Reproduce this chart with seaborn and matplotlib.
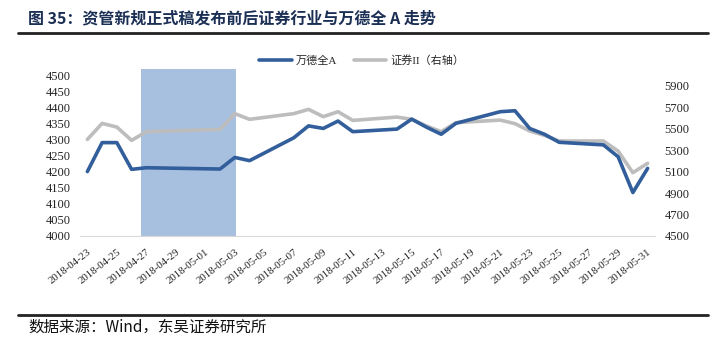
import matplotlib
matplotlib.use("Agg")
import matplotlib.pyplot as plt
from matplotlib.lines import Line2D
import pandas as pd
import numpy as np
import seaborn as sns

# Trading days and closing levels
trade_dates = [
    "2018-04-23", "2018-04-24", "2018-04-25", "2018-04-26", "2018-04-27",
    "2018-05-02", "2018-05-03", "2018-05-04",
    "2018-05-07", "2018-05-08", "2018-05-09", "2018-05-10", "2018-05-11",
    "2018-05-14", "2018-05-15", "2018-05-16", "2018-05-17", "2018-05-18",
    "2018-05-21", "2018-05-22", "2018-05-23", "2018-05-24", "2018-05-25",
    "2018-05-28", "2018-05-29", "2018-05-30", "2018-05-31",
]
wind_all_a = [
    4200, 4290, 4290, 4207, 4212,
    4208, 4244, 4234,
    4305, 4342, 4334, 4357, 4324,
    4332, 4363, 4338, 4316, 4350,
    4386, 4389, 4334, 4316, 4291,
    4283, 4246, 4135, 4210,
]
securities_ii = [
    5400, 5549, 5515, 5391, 5472,
    5493, 5640, 5587,
    5640, 5680, 5612, 5658, 5577,
    5608, 5587, 5525, 5472, 5556,
    5580, 5547, 5478, 5438, 5385,
    5385, 5291, 5090, 5177,
]
series_names = ["万德全A", "证券II（右轴）"]
left_ticks = list(range(4000, 4501, 50))
right_ticks = list(range(4500, 5901, 200))

# Window around the release of the final asset-management rules
shade_start = pd.Timestamp("2018-04-26 15:00")
shade_end = pd.Timestamp("2018-05-03 02:00")

BLUE = "#325F9B"
GREY = "#BDBDBD"
SHADE = "#6E96CA"
AXIS_GREY = "#D9D9D9"

sns.set_style("white")
plt.rcParams["font.family"] = ["Liberation Serif", "Noto Sans CJK SC"]

df = pd.DataFrame({
    "date": pd.to_datetime(trade_dates),
    "wind": wind_all_a,
    "sec": securities_ii,
})

W, H = 724, 346
fig = plt.figure(figsize=(W / 100, H / 100), dpi=100)
ax = fig.add_axes([80 / W, 1 - 236 / H, 575 / W, 161 / H])
ax2 = ax.twinx()
ax.set_zorder(ax2.get_zorder() + 1)
ax.patch.set_visible(False)

sns.lineplot(data=df, x="date", y="sec", ax=ax2, color=GREY, lw=2.6,
             legend=False)
span = ax2.axvspan(shade_start, shade_end, ymin=0, ymax=1.037,
                   color=SHADE, alpha=0.6, lw=0)
span.set_clip_on(False)
sns.lineplot(data=df, x="date", y="wind", ax=ax, color=BLUE, lw=2.6,
             legend=False)

x0 = pd.Timestamp("2018-04-22 12:00")
x1 = pd.Timestamp("2018-05-31 12:00")
ax.set_xlim(x0, x1)
ax.set_ylim(4000, 4500)
ax2.set_ylim(4500, 6000)

major = pd.date_range("2018-04-23", "2018-05-31", freq="2D")
minor = pd.date_range(x0, "2018-05-31", freq="2D")
ax.set_xticks(major)
ax.set_xticklabels([d.strftime("%Y-%m-%d") for d in major])
ax.set_xticks(minor, minor=True)
ax.tick_params(axis="x", which="major", length=0, pad=8, labelsize=7.8)
ax.tick_params(axis="x", which="minor", length=4, width=0.8,
               color=AXIS_GREY, direction="out")
for lab in ax.get_xticklabels():
    lab.set_rotation(38)
    lab.set_ha("right")
    lab.set_va("top")
    lab.set_rotation_mode("anchor")

ax.set_yticks(left_ticks)
ax.tick_params(axis="y", length=0, pad=7, labelsize=9)
ax2.set_yticks(right_ticks)
ax2.tick_params(axis="y", length=0, pad=7, labelsize=9)
ax.set_xlabel("")
ax.set_ylabel("")
ax2.set_ylabel("")

for name, sp in ax.spines.items():
    sp.set_visible(name == "bottom")
ax.spines["bottom"].set_color(AXIS_GREY)
ax.spines["bottom"].set_linewidth(0.8)
for sp in ax2.spines.values():
    sp.set_visible(False)

handles = [Line2D([], [], color=BLUE, lw=2.6),
           Line2D([], [], color=GREY, lw=2.6)]
ax.legend(handles, series_names, loc="center", ncol=2, frameon=False,
          bbox_to_anchor=(0.5, 1 - 60 / H), bbox_transform=fig.transFigure,
          handlelength=2.9, handletextpad=0.4, columnspacing=1.5,
          prop={"family": ["Liberation Serif", "Noto Sans CJK SC"], "size": 8})

# Header and footer
fig.text(28 / W, 1 - 18 / H, "图 35：资管新规正式稿发布前后证券行业与万德全 A 走势",
         ha="left", va="center", fontsize=11.5, fontweight="bold",
         color="#1B2F55", family=["Noto Sans CJK SC"])
fig.add_artist(Line2D([18 / W, 708 / W], [1 - 33 / H, 1 - 33 / H],
                      color="#222222", lw=2.0))
fig.add_artist(Line2D([18 / W, 708 / W], [1 - 315 / H, 1 - 315 / H],
                      color="#222222", lw=2.0))
fig.text(28 / W, 1 - 327 / H, "数据来源：Wind，东吴证券研究所",
         ha="left", va="center", fontsize=11.2, color="#111111",
         family=["Noto Sans CJK SC"])

fig.savefig("out.png", dpi=100)
